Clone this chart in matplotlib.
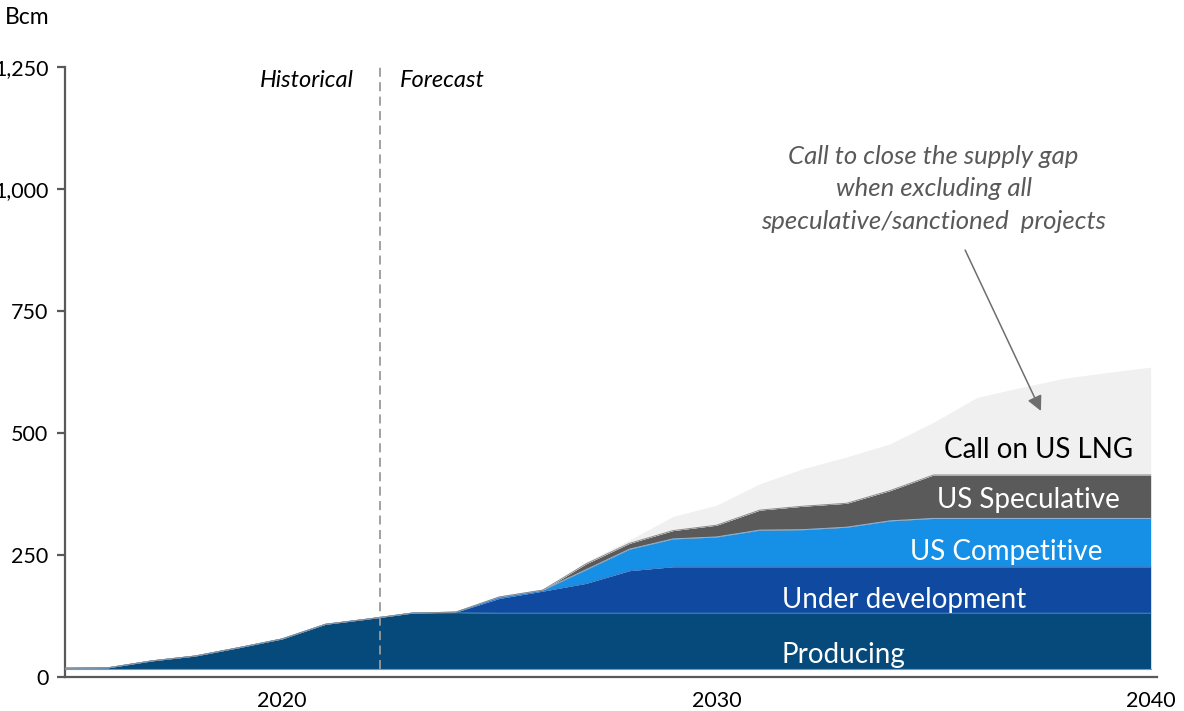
import numpy as np
import matplotlib
matplotlib.use("Agg")
import matplotlib.pyplot as plt

years = np.arange(2015, 2041)
base_offset = 16
producing = [2, 3, 17, 27, 44, 62, 92, 103, 115, 116, 115, 115, 115, 115, 115,
             115, 115, 115, 115, 115, 115, 115, 115, 115, 115, 115]
under_development = [0, 0, 0, 0, 0, 0, 0, 0, 0, 1, 30, 45, 61, 87, 95,
                     95, 95, 95, 95, 95, 95, 95, 95, 95, 95, 95]
us_competitive = [0, 0, 0, 0, 0, 0, 0, 0, 0, 0, 3, 2, 28, 44, 57,
                  61, 75, 76, 81, 94, 99, 99, 99, 99, 99, 99]
us_speculative = [0, 0, 0, 0, 0, 0, 0, 0, 0, 0, 0, 0, 12, 12, 17,
                  24, 41, 48, 49, 62, 89, 89, 89, 89, 89, 89]
call_on_us_lng = [0, 0, 0, 0, 0, 0, 0, 0, 0, 0, 0, 1, 4, 7, 29,
                  41, 54, 77, 95, 96, 108, 159, 179, 198, 210, 221]

series_names = ["Producing", "Under development", "US Competitive",
                "US Speculative", "Call on US LNG"]
series_values = [producing, under_development, us_competitive,
                 us_speculative, call_on_us_lng]
colors = ["#054a7a", "#0f4aa0", "#1690e6", "#5a5a5a", "#f0f0f0"]
edge_colors = ["#3b78ad", "#3c7cc8", "#8fb8de", "#8a8a8a", "#f0f0f0"]

y_ticks = [0, 250, 500, 750, 1000, 1250]
y_tick_labels = ["0", "250", "500", "750", "1,000", "1,250"]
x_ticks = [2020, 2030, 2040]
x_tick_labels = ["2020", "2030", "2040"]
divider_year = 2022.25

plt.rcParams['font.family'] = ['Lato', 'DejaVu Sans']

fig = plt.figure(figsize=(11.84, 7.11), dpi=100)
ax = fig.add_axes([0.0549, 0.0478, 0.9221, 0.858])

bottom = np.full(len(years), float(base_offset))
for vals, c in zip(series_values, colors):
    top = bottom + np.array(vals, dtype=float)
    ax.fill_between(years, bottom, top, color=c, linewidth=0, zorder=2)
    bottom = top
# boundary lines
bottom = np.full(len(years), float(base_offset))
ax.plot(years, bottom, color="#6a9ccc", lw=0.8, zorder=3)
for vals, ec in zip(series_values[:-1], edge_colors[:-1]):
    top = bottom + np.array(vals, dtype=float)
    ax.plot(years, top, color=ec, lw=0.7, zorder=3)
    bottom = top

ax.set_xlim(2015, 2040.14)
ax.set_ylim(0, 1250)
ax.set_yticks(y_ticks)
ax.set_yticklabels(y_tick_labels)
ax.set_xticks(x_ticks)
ax.set_xticklabels(x_tick_labels)
for s in ["top", "right"]:
    ax.spines[s].set_visible(False)
for s in ["left", "bottom"]:
    ax.spines[s].set_color("#595959")
    ax.spines[s].set_linewidth(1.6)
ax.tick_params(axis="y", length=6, width=1.6, color="#595959", labelsize=15.5,
               pad=6, labelcolor="black")
ax.tick_params(axis="x", length=0, labelsize=15.5, pad=10, labelcolor="black")

# divider
ax.plot([divider_year, divider_year], [base_offset, 1250], color="#9a9a9a",
        lw=1.3, ls=(0, (5, 3)), zorder=4)
ax.text(divider_year - 0.6, 1222, "Historical", style="italic", fontsize=17,
        ha="right", va="center", color="black")
ax.text(divider_year + 0.45, 1222, "Forecast", style="italic", fontsize=17,
        ha="left", va="center", color="black")

fig.text(0.004, 0.975, "Bcm", fontsize=16.5, ha="left", va="center")

# series labels
ax.text(2031.5, 45, "Producing", color="white", fontsize=20, ha="left", va="center", zorder=5)
ax.text(2031.5, 158, "Under development", color="white", fontsize=20, ha="left", va="center", zorder=5)
ax.text(2038.9, 256, "US Competitive", color="white", fontsize=20, ha="right", va="center", zorder=5)
ax.text(2039.3, 362, "US Speculative", color="white", fontsize=20, ha="right", va="center", zorder=5)
ax.text(2039.6, 466, "Call on US LNG", color="black", fontsize=20, ha="right", va="center", zorder=5)

# annotation
ax.text(2035.0, 1000, "Call to close the supply gap\nwhen excluding all\nspeculative/sanctioned  projects",
        style="italic", color="#595959", fontsize=18.5, ha="center", va="center",
        linespacing=1.48)
ax.annotate("", xy=(2037.5, 540), xytext=(2035.7, 880),
            arrowprops=dict(arrowstyle="-|>,head_length=0.9,head_width=0.45",
                            color="#6e6e6e", lw=1.1))

fig.savefig("out.png", dpi=100)
